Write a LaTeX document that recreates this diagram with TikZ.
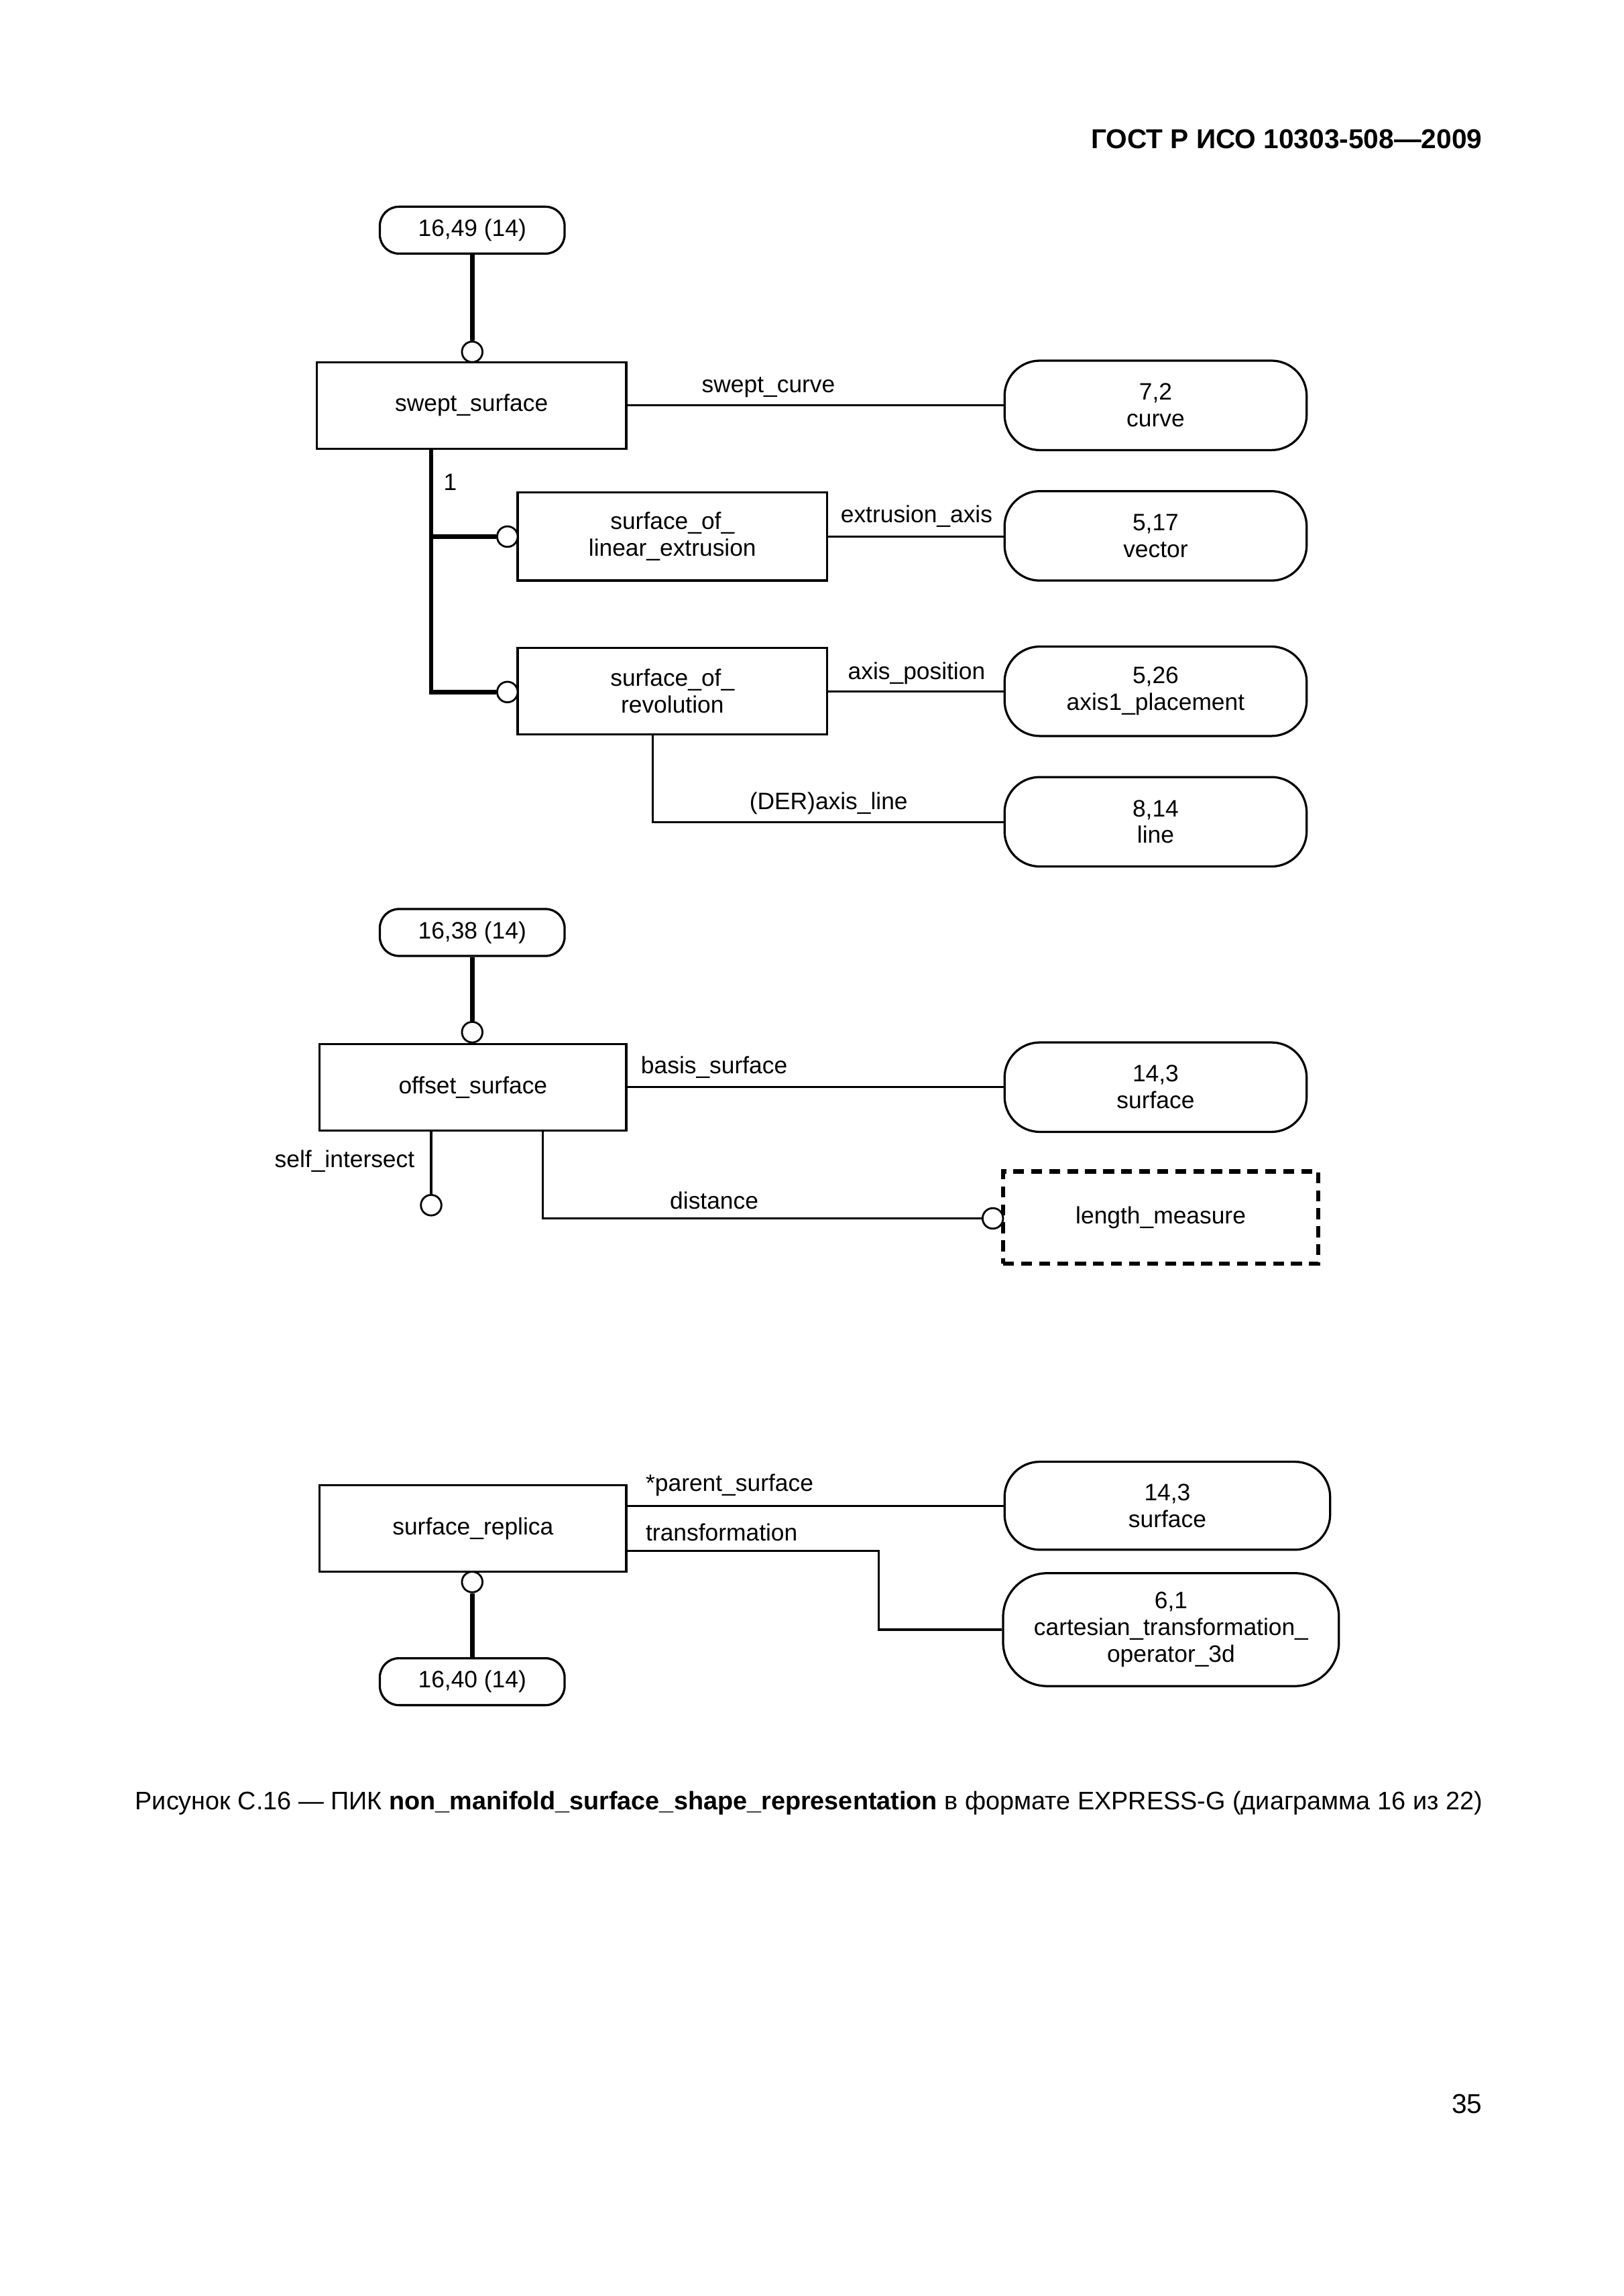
\documentclass[tikz,border=0pt]{standalone}
\usepackage{fontspec}
\setmainfont{Liberation Sans}
\usetikzlibrary{calc}
\def\U{0.53777pt}
\begin{document}
\begin{tikzpicture}[x=0.53777pt,y=-0.53777pt,
  lab/.style={font=\fontsize{8.7}{9.8}\selectfont, inner sep=0pt},
  entity/.style={draw, line width=0.8pt, minimum width=211*\U, minimum height=59*\U, align=center, font=\fontsize{8.7}{9.8}\selectfont, inner sep=0pt},
  refbox/.style={draw, line width=0.8pt, rounded corners=24*\U, minimum width=206*\U, minimum height=61*\U, align=center, font=\fontsize{8.7}{9.8}\selectfont, inner sep=0pt},
  pageref/.style={draw, line width=0.8pt, rounded corners=13*\U, minimum width=126*\U, minimum height=32*\U, font=\fontsize{8.7}{9.8}\selectfont, inner sep=0pt},
  rel/.style={line width=0.75pt},
  sub/.style={line width=1.6pt},
  circ/.style={circle, draw, line width=0.7pt, fill=white, minimum size=14*\U, inner sep=0pt}
]
\useasboundingbox (0,0) rectangle (1107,1566);
\fill[white] (0,0) rectangle (1107,1566);

% header
\node[anchor=east, font=\bfseries\fontsize{10}{12}\selectfont, inner sep=0pt] (hdr) at (1011,95) {ГОСТ Р ИСО 10303-508—2009};

% ---------- section 1 ----------
\node[pageref] (p1) at (322,157) {16,49 (14)};
\node[entity] (ss) at (321.5,276.5) {swept\_surface};
\node[circ] (c1) at (322,240) {};
\draw[sub] (p1.south) -- (c1.north);

\node[refbox] (n72) at (788,276.5) {7,2\\curve};
\draw[rel] (ss.east) -- (n72.west);
\node[lab] (l1) at (524,264) {swept\_curve};

\node[entity, minimum height=60*\U] (sle) at (458.5,366) {surface\_of\_\\linear\_extrusion};
\node[entity] (sor) at (458.5,471.5) {surface\_of\_\\revolution};
\node[circ] (c2) at (346,366) {};
\node[circ] (c3) at (346,472) {};
\coordinate (tb) at (294,472);
\draw[sub] (ss.south -| tb) -- (tb) -- (c3.west);
\draw[sub] (c2.west -| tb) -- (c2.west);
\node[lab] (one) at (307,329) {1};

\node[refbox] (n517) at (788,365.5) {5,17\\vector};
\draw[rel] (sle.east) -- (sle.east -| n517.west);
\node[lab] (l2) at (625,352) {extrusion\_axis};

\node[refbox] (n526) at (788,471.5) {5,26\\axis1\_placement};
\draw[rel] (sor.east) -- (sor.east -| n526.west);
\node[lab] (l3) at (625,459) {axis\_position};

\node[refbox] (n814) at (788,560.5) {8,14\\line};
\coordinate (d1) at (445,561);
\draw[rel] (sor.south -| d1) -- (d1) -- (d1 -| n814.west);
\node[lab] (l4) at (565,548) {(DER)axis\_line};

% ---------- section 2 ----------
\node[pageref] (p2) at (322,636) {16,38 (14)};
\node[entity, minimum width=209*\U] (os) at (322.5,741.5) {offset\_surface};
\node[circ] (c4) at (322,704) {};
\draw[sub] (p2.south) -- (c4.north);

\node[refbox] (n143a) at (788,741.5) {14,3\\surface};
\draw[rel] (os.east) -- (n143a.west);
\node[lab] (l5) at (487,728) {basis\_surface};

\node[circ] (c5) at (294,822) {};
\draw[rel] (os.south -| c5) -- (c5.north);
\node[lab] (l6) at (235,792) {self\_intersect};

\node[draw, line width=1.5pt, dash pattern=on 4pt off 2.6pt, minimum width=215*\U, minimum height=63*\U, font=\fontsize{8.7}{9.8}\selectfont, inner sep=0pt] (lm) at (791.5,830.5) {length\_measure};
\node[circ] (c6) at (677,831) {};
\coordinate (d2) at (370,831);
\draw[rel] (os.south -| d2) -- (d2) -- (c6.west);
\node[lab] (l7) at (487,819) {distance};

% ---------- section 3 ----------
\node[entity, minimum width=209*\U] (sr) at (322.5,1042.5) {surface\_replica};
\node[refbox, minimum width=222*\U, minimum height=60*\U] (n143b) at (796,1027) {14,3\\surface};
\draw[rel] (n143b.west -| sr.east) -- (n143b.west);
\node[lab, anchor=west] (l8) at (440,1013) {*parent\_surface};

\node[refbox, minimum width=229*\U, minimum height=77*\U, rounded corners=30*\U] (n61) at (798.5,1111.5) {6,1\\cartesian\_transformation\_\\operator\_3d};
\coordinate (tr) at (599,1058);
\draw[rel] (tr -| sr.east) -- (tr) -- (tr |- n61.west) -- (n61.west);
\node[lab, anchor=west] (l9) at (440,1045) {transformation};

\node[circ] (c7) at (322,1079) {};
\node[pageref] (p3) at (322,1147) {16,40 (14)};
\draw[sub] (c7.south) -- (p3.north);

% caption
\node[font=\fontsize{9.3}{11}\selectfont, inner sep=0pt] (cap) at (551.5,1230) {Рисунок С.16 — ПИК \textbf{non\_manifold\_surface\_shape\_representation} в формате EXPRESS-G (диаграмма 16 из 22)};
\node[anchor=east, font=\fontsize{10}{12}\selectfont, inner sep=0pt] (pg) at (1011,1435) {35};
\end{tikzpicture}
\end{document}
